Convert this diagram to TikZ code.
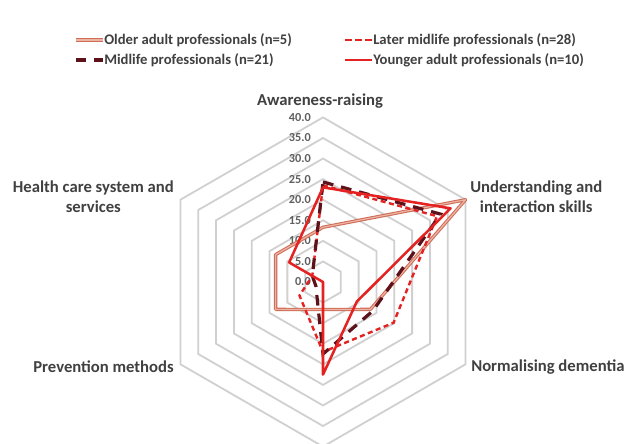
\documentclass[tikz,border=0pt]{standalone}
\usepackage{fontspec}
\setmainfont{Carlito}
\definecolor{txtc}{RGB}{64,64,64}
\definecolor{tickc}{RGB}{95,95,95}
\definecolor{ringc}{RGB}{208,208,208}
\definecolor{olderc}{RGB}{206,110,90}
\definecolor{olderin}{RGB}{238,180,162}
\definecolor{redc}{RGB}{228,34,34}
\definecolor{darkc}{RGB}{92,18,26}
\newcommand{\radarpt}[3]{\coordinate (#1) at ({#2}:{#3*4.115});}
\begin{document}
\begin{tikzpicture}[x=0.75pt,y=-0.75pt,
  ring/.style={draw=ringc, line width=1.35pt, line join=miter},
  ticklbl/.style={font=\fontsize{9.2}{11}\selectfont\bfseries, text=tickc, inner sep=0pt, anchor=east},
  axlbl/.style={font=\fontsize{12.5}{15}\selectfont\bfseries, text=txtc, inner sep=0pt, align=center},
  leglbl/.style={font=\fontsize{11}{13}\selectfont\bfseries, text=txtc, inner sep=0pt, anchor=west},
  older/.style={draw=olderc, double=olderin, double distance=0.9pt, line width=0.8pt, line join=round},
  latermid/.style={draw=redc, line width=1.8pt, dash pattern=on 3.8pt off 2.6pt},
  midlife/.style={draw=darkc, line width=2.4pt, dash pattern=on 8pt off 6pt},
  younger/.style={draw=redc, line width=1.9pt, line join=round}]
\useasboundingbox (0,0) rectangle (627,443);

% legend
\coordinate (l1a) at (76,40); \coordinate (l1b) at (103,40);
\coordinate (l2a) at (345,40); \coordinate (l2b) at (372,40);
\coordinate (l3a) at (76,60); \coordinate (l3b) at (103,60);
\coordinate (l4a) at (345,60); \coordinate (l4b) at (372,60);
\draw[older] (l1a) -- (l1b);
\draw[latermid, dash pattern=on 5pt off 2.6pt] (l2a) -- (l2b);
\draw[midlife, dash pattern=on 7.5pt off 6pt] (l3a) -- (l3b);
\draw[younger] (l4a) -- (l4b);
\node[leglbl] (t1) at (104,40) {Older adult professionals (n=5)};
\node[leglbl] (t2) at (373,40) {Later midlife professionals (n=28)};
\node[leglbl] (t3) at (104,60) {Midlife professionals (n=21)};
\node[leglbl] (t4) at (373,60) {Younger adult professionals (n=10)};

% axis labels
\node[axlbl] (axA) at (320,101) {Awareness-raising};
\node[axlbl, anchor=west] (axU) at (470,197) {Understanding and\\interaction skills};
\node[axlbl, anchor=west] (axN) at (471,367) {Normalising dementia};
\node[axlbl, anchor=east] (axP) at (174,367) {Prevention methods};
\node[axlbl, anchor=east] (axH) at (174,197) {Health care system and\\services};

\begin{scope}[shift={(323,282)}, x=0.75pt, y=0.75pt]
  \foreach \k in {1,...,8}
    \draw[ring] (90:{\k*20.575}) -- (30:{\k*20.575}) -- (-30:{\k*20.575}) -- (-90:{\k*20.575}) -- (-150:{\k*20.575}) -- (150:{\k*20.575}) -- cycle;
  \foreach \k/\v in {0/0.0,1/5.0,2/10.0,3/15.0,4/20.0,5/25.0,6/30.0,7/35.0,8/40.0}
    \node[ticklbl] (tk\k) at (-12,{\k*20.575}) {\v};

  % older adult
  \radarpt{oA}{90}{13.3} \radarpt{oU}{30}{40.0} \radarpt{oN}{-30}{13.3}
  \radarpt{oB}{-90}{6.7} \radarpt{oP}{-150}{13.3} \radarpt{oH}{150}{13.3}
  % later midlife
  \radarpt{lA}{90}{23.5} \radarpt{lU}{30}{32.0} \radarpt{lN}{-30}{19.8}
  \radarpt{lB}{-90}{17.0} \radarpt{lP}{-150}{6.6} \radarpt{lH}{150}{3.0}
  % midlife
  \radarpt{mA}{90}{24.3} \radarpt{mU}{30}{33.0} \radarpt{mN}{-30}{14.0}
  \radarpt{mB}{-90}{17.5} \radarpt{mP}{-150}{2.0} \radarpt{mH}{150}{3.0}
  % younger adult
  \radarpt{yA}{90}{23.0} \radarpt{yU}{30}{35.8} \radarpt{yN}{-30}{9.5}
  \radarpt{yB}{-90}{22.5} \radarpt{yP}{-150}{0.0} \radarpt{yH}{150}{9.5}

  \draw[older] (oA) -- (oU) -- (oN) -- (oB) -- (oP) -- (oH) -- cycle;
  \draw[latermid] (lA) -- (lU) -- (lN) -- (lB) -- (lP) -- (lH) -- cycle;
  \draw[midlife] (mA) -- (mU) -- (mN) -- (mB) -- (mP) -- (mH) -- cycle;
  \draw[younger] (yA) -- (yU) -- (yN) -- (yB) -- (yP) -- (yH) -- cycle;
\end{scope}
\end{tikzpicture}
\end{document}
